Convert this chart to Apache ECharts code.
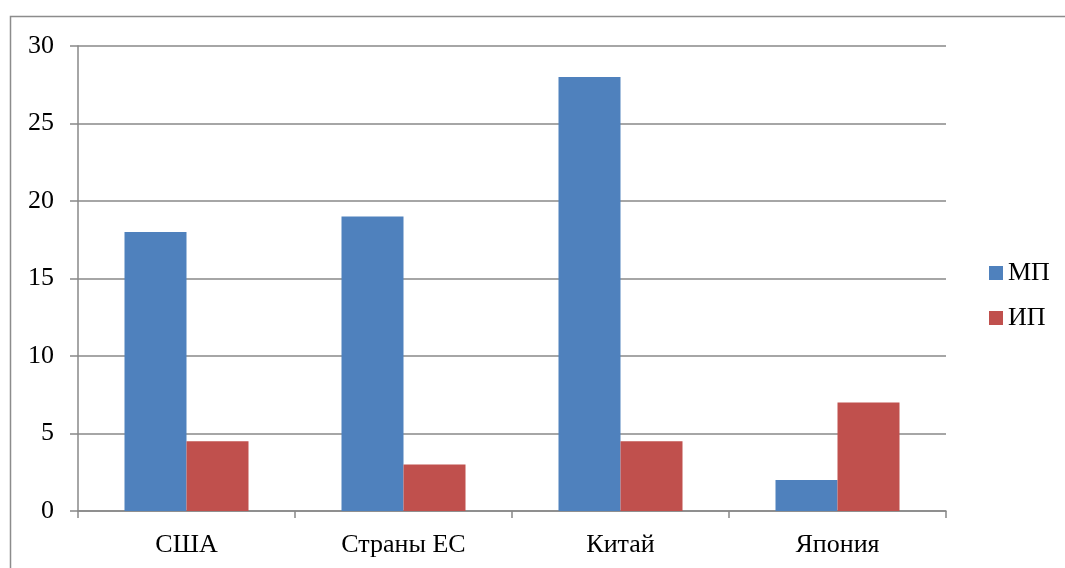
<!DOCTYPE html>
<html><head><meta charset="utf-8">
<script src="https://cdn.jsdelivr.net/npm/echarts@6/dist/echarts.min.js"></script>
<style>html,body{margin:0;padding:0;background:#fff}#c{width:1065px;height:568px}</style>
</head><body><div id="c"></div>
<script>
var categories = ['США', 'Страны ЕС', 'Китай', 'Япония'];
var seriesMP = [18, 19, 28, 2];
var seriesIP = [4.5, 3, 4.5, 7];
var seriesNames = ['МП', 'ИП'];

var font = 'Liberation Serif, Times New Roman, serif';
var gray = '#888888';
var chart = echarts.init(document.getElementById('c'));
chart.setOption({
  animation: false,
  backgroundColor: '#fff',
  graphic: [{
    type: 'rect', silent: true,
    shape: { x: 10.5, y: 16.5, width: 1200, height: 700 },
    style: { fill: 'none', stroke: '#8c8c8c', lineWidth: 1.5 }
  }],
  grid: { left: 78, top: 46, right: 119, bottom: 57 },
  legend: {
    orient: 'vertical', left: 989, top: 260, padding: 0,
    itemWidth: 14, itemHeight: 14, itemGap: 19, icon: 'rect',
    textStyle: { fontFamily: font, fontSize: 26, color: '#000', lineHeight: 26 },
    data: seriesNames
  },
  xAxis: {
    type: 'category', data: categories,
    axisLine: { lineStyle: { color: gray, width: 1.5 } },
    axisTick: { show: true, alignWithLabel: false, length: 7, lineStyle: { color: gray, width: 1.5 } },
    axisLabel: { fontFamily: font, fontSize: 26, color: '#000', margin: 21 }
  },
  yAxis: {
    type: 'value', min: 0, max: 30, interval: 5,
    axisLine: { show: true, lineStyle: { color: gray, width: 1.5 } },
    axisTick: { show: true, length: 8, lineStyle: { color: gray, width: 1.5 } },
    axisLabel: { fontFamily: font, fontSize: 26, color: '#000', margin: 24 },
    splitLine: { lineStyle: { color: gray, width: 1.5 } }
  },
  series: [
    { name: seriesNames[0], type: 'bar', data: seriesMP, barWidth: 62, barGap: '0%', itemStyle: { color: '#4F81BD' } },
    { name: seriesNames[1], type: 'bar', data: seriesIP, barWidth: 62, barGap: '0%', itemStyle: { color: '#C0504D' } }
  ]
});
</script></body></html>
